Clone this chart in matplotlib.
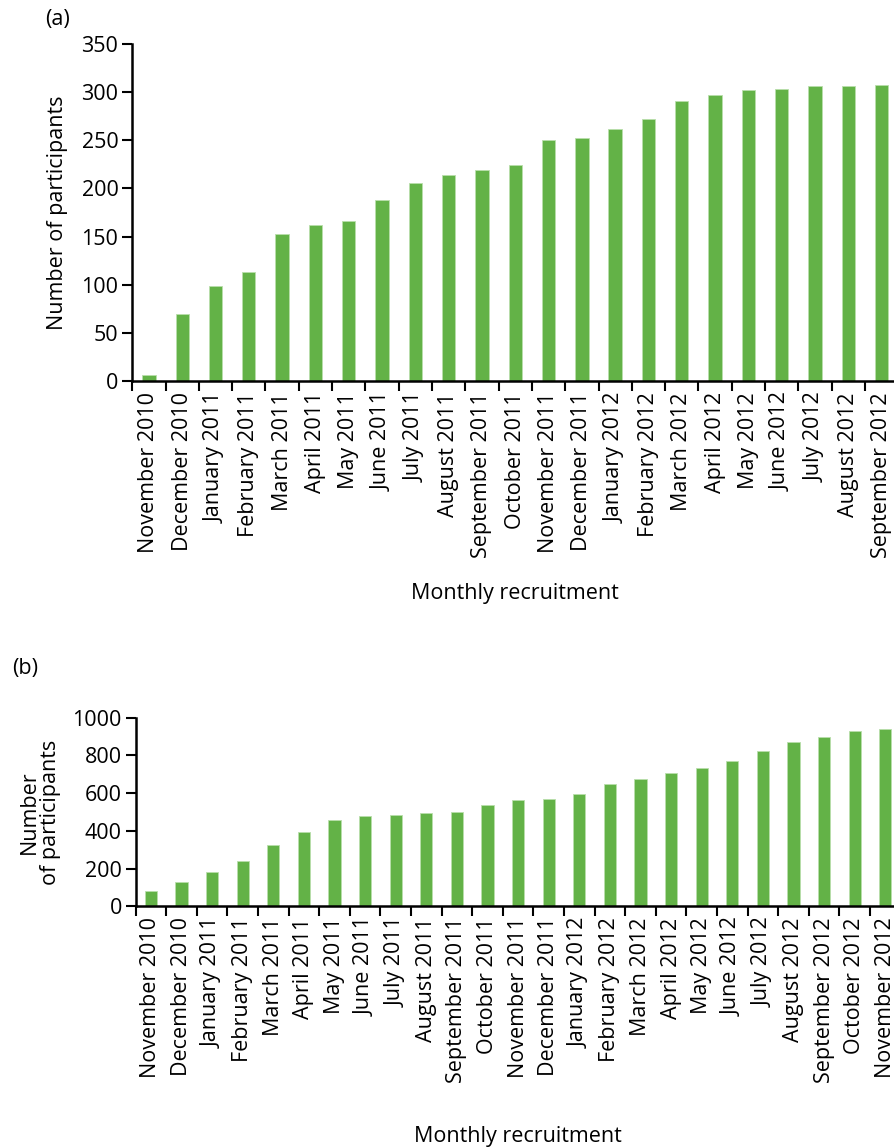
import matplotlib
matplotlib.use("Agg")
import matplotlib.pyplot as plt
import numpy as np

plt.rcParams['font.family'] = ['Open Sans', 'DejaVu Sans']

# Monthly cumulative recruitment, panel (a)
months_a = ["November 2010", "December 2010", "January 2011", "February 2011",
            "March 2011", "April 2011", "May 2011", "June 2011", "July 2011",
            "August 2011", "September 2011", "October 2011", "November 2011",
            "December 2011", "January 2012", "February 2012", "March 2012",
            "April 2012", "May 2012", "June 2012", "July 2012", "August 2012",
            "September 2012"]
counts_a = [6, 70, 99, 113, 153, 162, 166, 188, 206, 214, 219, 224, 250,
            252, 262, 272, 291, 297, 302, 303, 306, 306, 307]

# Monthly cumulative recruitment, panel (b)
months_b = months_a + ["October 2012", "November 2012"]
counts_b = [83, 129, 182, 240, 323, 392, 458, 479, 484, 495, 498, 539, 565,
            569, 595, 647, 677, 705, 733, 772, 821, 871, 896, 929, 938]

bar_color = "#63b247"
fs = 15.5

fig = plt.figure(figsize=(8.95, 11.48), dpi=100)
ax_a = fig.add_axes([0.1478, 0.6681, 0.8558, 0.2936])
ax_b = fig.add_axes([0.1516, 0.2105, 0.8547, 0.1643])


def draw_panel(ax, months, counts, ymax, ystep):
    x = np.arange(len(months))
    ax.bar(x, counts, width=0.4, color=bar_color, edgecolor="#b9dfab",
           linewidth=0.6)
    ax.set_xlim(-0.5, len(months) - 0.5)
    ax.set_ylim(0, ymax)
    ax.set_yticks(np.arange(0, ymax + 1, ystep))
    # tick marks sit on category boundaries, labels under the bars
    ax.set_xticks(np.arange(len(months) + 1) - 0.5)
    ax.set_xticklabels([])
    ax.set_xticks(x, minor=True)
    ax.set_xticklabels(months, minor=True, rotation=90, fontsize=fs)
    ax.tick_params(axis="x", which="minor", length=0, pad=8)
    ax.tick_params(axis="x", which="major", length=7, width=1.5,
                   direction="out")
    ax.tick_params(axis="y", length=7, width=1.5, labelsize=fs, pad=3)
    for side in ("top", "right"):
        ax.spines[side].set_visible(False)
    for side in ("left", "bottom"):
        ax.spines[side].set_linewidth(1.8)


draw_panel(ax_a, months_a, counts_a, 350, 50)
draw_panel(ax_b, months_b, counts_b, 1000, 200)

ax_a.set_ylabel("Number of participants", fontsize=fs, labelpad=10)
ax_a.set_xlabel("Monthly recruitment", fontsize=fs, labelpad=18)
ax_b.set_ylabel("Number\nof participants", fontsize=fs, labelpad=8,
                linespacing=1.0)
ax_b.set_xlabel("Monthly recruitment", fontsize=fs, labelpad=31)

fig.text(0.05, 0.983, "(a)", fontsize=fs, ha="left", va="center")
fig.text(0.013, 0.418, "(b)", fontsize=fs, ha="left", va="center")

fig.savefig("out.png", dpi=100)
